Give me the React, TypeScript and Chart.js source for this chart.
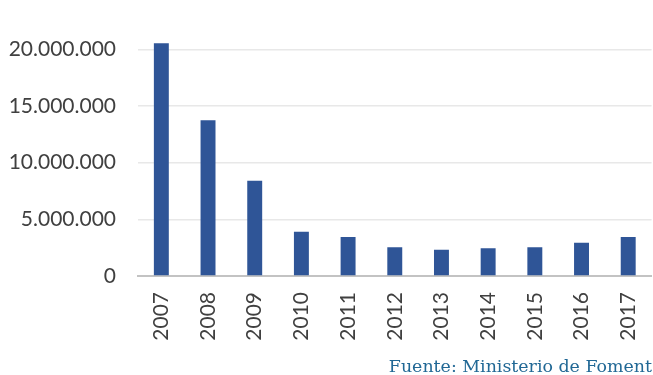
import { useEffect, useRef } from 'react';
import { Chart, registerables } from 'chart.js';

Chart.register(...registerables);

// Annual totals, 2007–2017
const years = ['2007', '2008', '2009', '2010', '2011', '2012', '2013', '2014', '2015', '2016', '2017'];
const totals = [20530000, 13740000, 8400000, 3900000, 3440000, 2530000, 2320000, 2440000, 2530000, 2940000, 3440000];
const yMin = 0;
const yMax = 25000000;
const yStep = 5000000;
const sourceNote = 'Fuente: Ministerio de Foment';

const CANVAS_W = 670;
const CANVAS_H = 417;
const CANVAS_TOP = -42;

// 20000000 -> "20.000.000"
function withDots(v: number): string {
  return String(Math.round(v)).replace(/\B(?=(\d{3})+(?!\d))/g, '.');
}

export default function App() {
  const canvasRef = useRef<HTMLCanvasElement | null>(null);

  useEffect(() => {
    const canvas = canvasRef.current;
    if (!canvas) return;
    const chart = new Chart(canvas, {
      type: 'bar',
      data: {
        labels: years,
        datasets: [
          {
            label: 'Total',
            data: totals,
            backgroundColor: '#2f5597',
            borderWidth: 0,
            categoryPercentage: 1,
            barPercentage: 0.32,
          },
        ],
      },
      options: {
        responsive: false,
        animation: false,
        devicePixelRatio: 1,
        layout: { padding: { top: 22, right: 13, bottom: 0, left: 0 } },
        plugins: {
          legend: { display: false },
          tooltip: { enabled: false },
        },
        scales: {
          x: {
            grid: { display: false, drawTicks: false },
            border: { display: true, color: '#c3c3c3', width: 2 },
            ticks: {
              minRotation: 90,
              maxRotation: 90,
              padding: 16,
              color: '#404040',
              font: { family: 'Lato', size: 21 },
            },
            afterFit: (scale: any) => {
              scale.height = 99;
            },
          },
          y: {
            min: yMin,
            max: yMax,
            grid: { color: '#e8e8e8', lineWidth: 1.5, drawTicks: false },
            border: { display: false },
            ticks: {
              stepSize: yStep,
              padding: 22,
              color: '#404040',
              font: { family: 'Lato', size: 21 },
              callback: (v: any) => withDots(Number(v)),
            },
            afterFit: (scale: any) => {
              scale.width = 138;
            },
          },
        },
      },
    });
    return () => chart.destroy();
  }, []);

  return (
    <div
      style={{
        position: 'fixed',
        left: 0,
        top: 0,
        width: 653,
        height: 375,
        overflow: 'hidden',
        background: '#ffffff',
      }}
    >
      <canvas
        ref={canvasRef}
        width={CANVAS_W}
        height={CANVAS_H}
        style={{ position: 'absolute', left: 0, top: CANVAS_TOP, width: CANVAS_W, height: CANVAS_H }}
      />
      <div
        style={{
          position: 'absolute',
          right: 1,
          top: 355,
          fontFamily: '"DejaVu Serif", serif',
          fontSize: 17.4,
          color: '#216895',
          whiteSpace: 'nowrap',
          lineHeight: '22px',
        }}
      >
        {sourceNote}
      </div>
    </div>
  );
}
